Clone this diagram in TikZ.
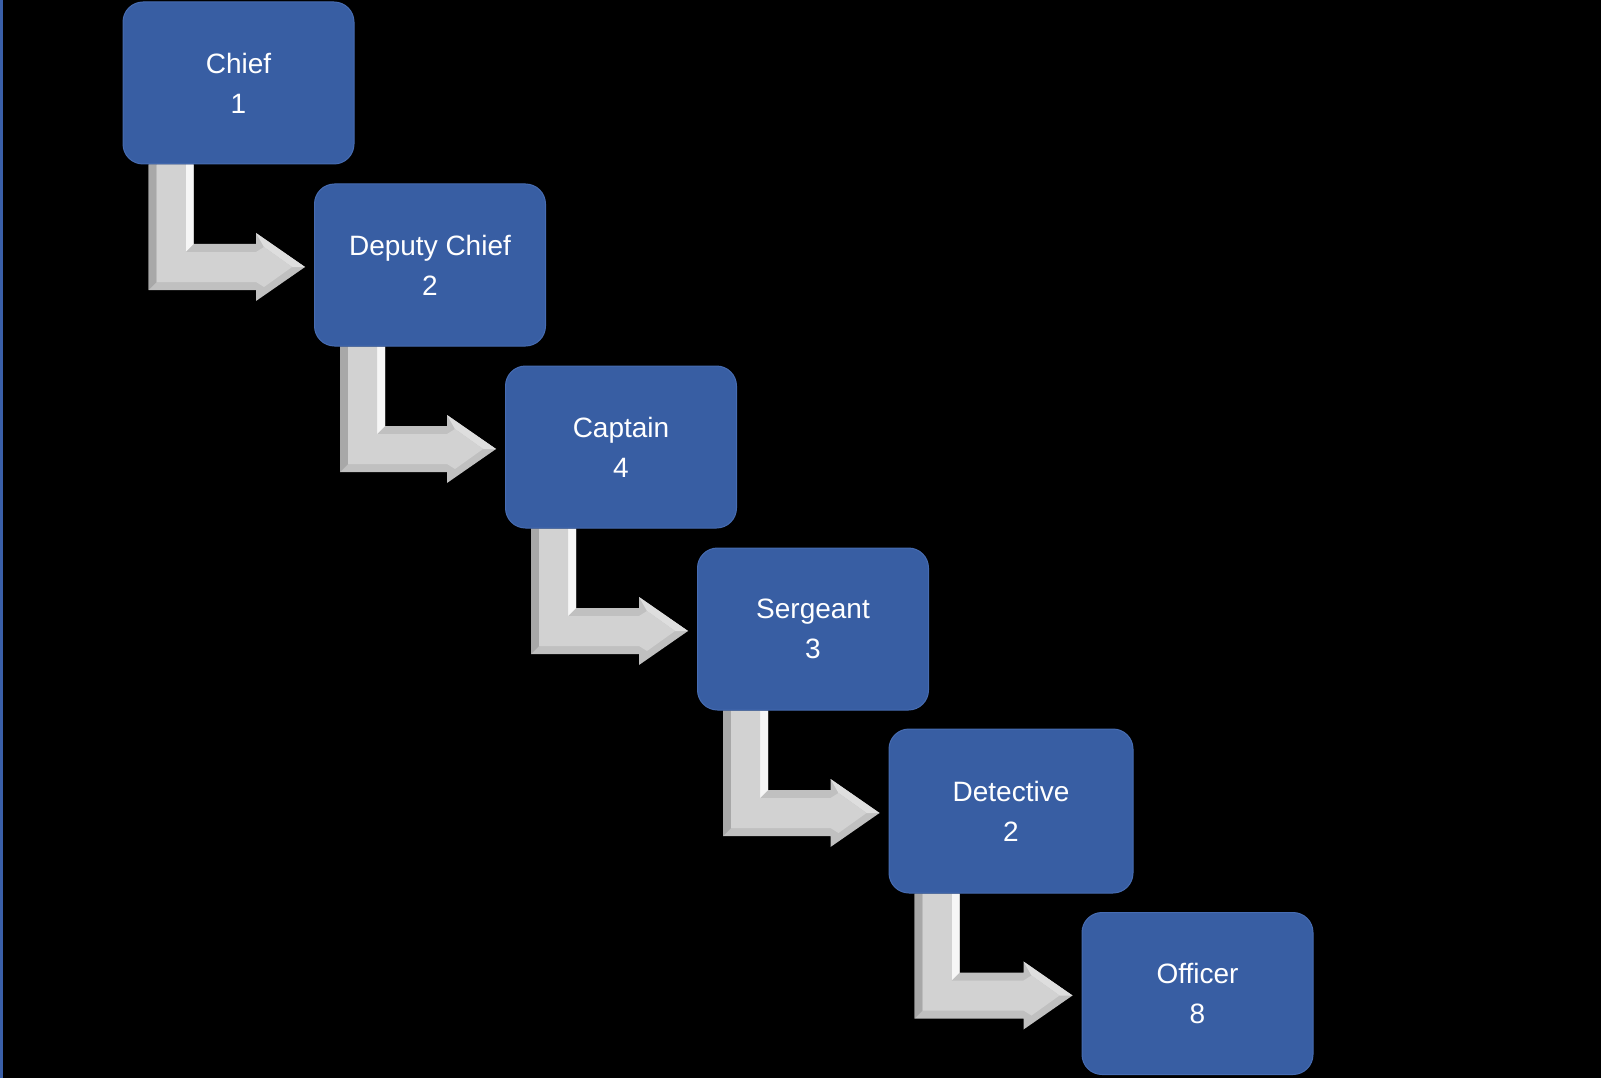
\documentclass[tikz,border=0pt]{standalone}
\usepackage{fontspec}
\setmainfont{Liberation Sans}
\usetikzlibrary{calc}
\pgfdeclarelayer{bg}
\pgfsetlayers{bg,main}
\definecolor{boxblue}{RGB}{56,94,163}
\definecolor{boxedge}{RGB}{70,108,178}
\definecolor{sideline}{RGB}{58,95,168}
\definecolor{arrowout}{RGB}{192,192,192}
\definecolor{arrowleft}{RGB}{168,168,168}
\definecolor{arrowin}{RGB}{210,210,210}
\definecolor{arrowhi}{RGB}{246,246,246}
\definecolor{arrowmid}{RGB}{222,222,222}
\tikzset{
  rankbox/.style={rounded corners=20pt, fill=boxblue, draw=boxedge, line width=1pt,
    minimum width=231pt, minimum height=162pt, inner sep=0pt, align=center,
    text=white, font=\fontsize{28pt}{40pt}\selectfont},
}
\newcommand{\elbowarrow}[2]{%
  \begin{pgfonlayer}{bg}
  \coordinate (t) at ($(#2.west)+(-9,2)$);
  \coordinate (sl) at ($(#1.south west)+(26,0)$);
  \coordinate (sr) at ($(#1.south west)+(71,0)$);
  \coordinate (bt) at ($(t)+(0,-23)$);
  \coordinate (bb) at ($(t)+(0,23)$);
  \coordinate (hb) at ($(t)+(-49,0)$);
  \coordinate (ht) at ($(t)+(-49,-34)$);
  \coordinate (hm) at ($(t)+(-49,34)$);
  \fill[arrowout] (sl) -- (sr) -- (sr |- bt) -- (hb |- bt) -- (ht) -- (t) -- (hm) -- (hb |- bb) -- (sl |- bb) -- cycle;
  \fill[arrowleft] (sl) -- ($(sl)+(8,0)$) -- ($(sl |- bb)+(8,-8)$) -- (sl |- bb) -- cycle;
  \fill[arrowhi] (sr) -- (sr |- bt) -- ($(sr |- bt)+(-8,8)$) -- ($(sr)+(-8,0)$) -- cycle;
  \fill[arrowmid] (ht) -- (t) -- ($(t)+(-13,0)$) -- ($(ht)+(8,14)$) -- cycle;
  \fill[arrowin] ($(sl)+(8,0)$) -- ($(sr)+(-8,0)$) -- ($(sr |- bt)+(-8,8)$) -- ($(hb |- bt)+(0,8)$)
     -- ($(ht)+(8,14)$) -- ($(t)+(-13,0)$) -- ($(hm)+(8,-14)$) -- ($(hb |- bb)+(0,-8)$)
     -- ($(sl |- bb)+(8,-8)$) -- cycle;
  \end{pgfonlayer}%
}
\begin{document}
\begin{tikzpicture}[x=1pt,y=-1pt]
\begin{pgfonlayer}{bg}
  \fill[black] (0,0) rectangle (1601,1078);
  \fill[sideline] (0,0) rectangle (3,1078);
\end{pgfonlayer}
\useasboundingbox (0,0) rectangle (1601,1078);
\node[rankbox] (chief) at (238.5,83) {Chief\\1};
\node[rankbox] (deputy) at (430,265) {Deputy Chief\\2};
\node[rankbox] (captain) at (621,447) {Captain\\4};
\node[rankbox] (sergeant) at (813,629) {Sergeant\\3};
\node[rankbox, minimum width=244pt, minimum height=164pt] (detective) at (1011,811) {Detective\\2};
\node[rankbox] (officer) at (1197.5,993.5) {Officer\\8};
\elbowarrow{chief}{deputy}
\elbowarrow{deputy}{captain}
\elbowarrow{captain}{sergeant}
\elbowarrow{sergeant}{detective}
\elbowarrow{detective}{officer}
\end{tikzpicture}
\end{document}
